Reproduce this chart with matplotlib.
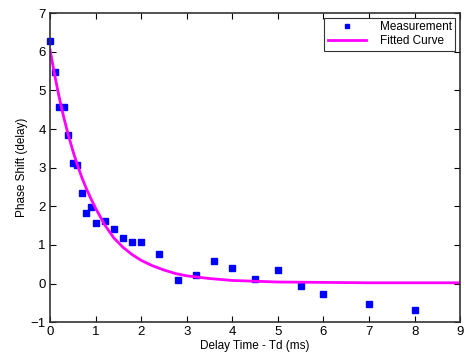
import matplotlib
matplotlib.use("Agg")
import matplotlib.pyplot as plt

plt.rcParams['font.family'] = ['Liberation Sans', 'DejaVu Sans']

# measured phase shift
meas_t = [0, 0.1, 0.2, 0.3, 0.4, 0.5, 0.6, 0.7, 0.8, 0.9, 1.0, 1.2, 1.4, 1.6, 1.8,
          2.0, 2.4, 2.8, 3.2, 3.6, 4.0, 4.5, 5.0, 5.5, 6.0, 7.0, 8.0]
meas_y = [6.27, 5.47, 4.57, 4.57, 3.84, 3.12, 3.08, 2.34, 1.82, 1.98, 1.57, 1.63, 1.42, 1.19, 1.07,
          1.07, 0.76, 0.10, 0.21, 0.58, 0.39, 0.13, 0.35, -0.06, -0.27, -0.52, -0.68]

# fitted curve
fit_t = [0, 0.1, 0.2, 0.3, 0.4, 0.5, 0.6, 0.7, 0.8, 0.9, 1.0, 1.2, 1.4, 1.6, 1.8,
         2.0, 2.25, 2.5, 2.75, 3.0, 3.5, 4.0, 4.5, 5.0, 6.0, 7.0, 8.0, 9.0]
fit_y = [6.05, 5.41, 4.83, 4.31, 3.85, 3.44, 3.07, 2.74, 2.45, 2.19, 1.95, 1.52, 1.18, 0.94, 0.75,
         0.60, 0.46, 0.35, 0.26, 0.20, 0.13, 0.08, 0.06, 0.04, 0.03, 0.02, 0.02, 0.02]

fig = plt.figure(figsize=(4.72, 3.56), dpi=100)
ax = fig.add_axes([0.106, 0.095, 0.869, 0.868])

ax.plot(meas_t, meas_y, 's', color='#0000ff', markersize=4.2, label='Measurement', clip_on=False)
ax.plot(fit_t, fit_y, '-', color='#ff00ff', linewidth=2, label='Fitted Curve')

ax.set_xlim(0, 9)
ax.set_ylim(-1, 7)
ax.set_xticks(range(0, 10))
ax.set_yticks(range(-1, 8))
ax.tick_params(direction='in', top=True, right=True, length=4, labelsize=9.5, pad=3)
for s in ax.spines.values():
    s.set_linewidth(1.2)
    s.set_color('#333333')

ax.set_xlabel('Delay Time - Td (ms)', fontsize=8.5, labelpad=1)
ax.set_ylabel('Phase Shift (delay)', fontsize=8.5, labelpad=2)

leg = ax.legend(loc='upper right', fontsize=8.5, fancybox=False, framealpha=1,
                edgecolor='#333333', borderaxespad=0.4, handlelength=3.2,
                handletextpad=1.2, borderpad=0.3, labelspacing=0.15,
                markerscale=0.8)
leg.get_frame().set_linewidth(0.8)

fig.savefig('out.png', dpi=100)
